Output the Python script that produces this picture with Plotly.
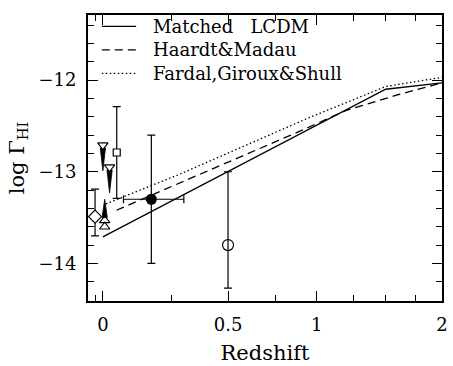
import plotly.graph_objects as go
import numpy as np

# ---- model curves (redshift, log Gamma_HI)
lcdm_z = [0.0, 1.5, 2.0]
lcdm_g = [-13.71, -12.10, -12.03]
hm_z = [0.045, 0.32, 0.89, 1.2, 1.6, 2.0]
hm_g = [-13.42, -13.08, -12.56, -12.33, -12.16, -12.03]
fgs_z = [0.01, 0.28, 0.95, 1.5, 2.0]
fgs_g = [-13.35, -13.03, -12.41, -12.07, -11.97]

# ---- measurements
fc_z, fc_g, fc_gerr, fc_zlo, fc_zhi = [0.17], [-13.30], [0.70], [0.069], [0.30]
oc_z, oc_g, oc_gup, oc_gdn = [0.5], [-13.80], [0.80], [0.47]
sq_z, sq_g, sq_gerr = [0.046], [-12.79], [0.50]
dm_z, dm_g, dm_gup, dm_gdn = [-0.025], [-13.49], [0.30], [0.21]
ul_z, ul_g = [0.0, 0.022], [-12.71, -12.95]          # upper limits
ll_z, ll_g = [0.006, 0.006], [-13.53, -13.60]        # lower limits
arrow_len = 0.28

legend_names = ["Matched   LCDM", "Haardt&Madau", "Fardal,Giroux&Shull"]

def lz(z):
    return [1 + v for v in z]

FONT = "DejaVu Serif"
fig = go.Figure()

line_w = 1.3
fig.add_trace(go.Scatter(x=lz(lcdm_z), y=lcdm_g, mode="lines",
                         line=dict(color="black", width=line_w)))
fig.add_trace(go.Scatter(x=lz(hm_z), y=hm_g, mode="lines",
                         line=dict(color="black", width=line_w, dash="8px,5px")))
fig.add_trace(go.Scatter(x=lz(fgs_z), y=fgs_g, mode="lines",
                         line=dict(color="black", width=line_w, dash="1.5px,2.5px")))

eb = dict(color="black", thickness=1.2, width=4)
# filled circle
fig.add_trace(go.Scatter(
    x=lz(fc_z), y=fc_g, mode="markers",
    marker=dict(symbol="circle", size=11, color="black"),
    error_y=dict(type="data", array=fc_gerr, **eb),
    error_x=dict(type="data", symmetric=False,
                 array=[fc_zhi[0] - fc_z[0]], arrayminus=[fc_z[0] - fc_zlo[0]], **eb)))
# open circle
fig.add_trace(go.Scatter(
    x=lz(oc_z), y=oc_g, mode="markers",
    marker=dict(symbol="circle-open", size=11, color="black", line=dict(width=1.2)),
    error_y=dict(type="data", symmetric=False, array=oc_gup, arrayminus=oc_gdn, **eb)))
# square
fig.add_trace(go.Scatter(
    x=lz(sq_z), y=sq_g, mode="markers",
    marker=dict(symbol="square", size=7, color="white", line=dict(width=1.2, color="black")),
    error_y=dict(type="data", array=sq_gerr, **eb)))
# diamond
fig.add_trace(go.Scatter(
    x=lz(dm_z), y=dm_g, mode="markers",
    marker=dict(symbol="diamond", size=10, color="white", line=dict(width=1.2, color="black")),
    error_y=dict(type="data", symmetric=False, array=dm_gup, arrayminus=dm_gdn, **eb)))

# arrow wedges for limits
hw = 1.0085  # multiplicative half width on the log(1+z) axis
for z, g in zip(ul_z, ul_g):
    x0 = 1 + z
    fig.add_trace(go.Scatter(x=[x0 / hw, x0 * hw, x0, x0 / hw],
                             y=[g - 0.03, g - 0.03, g - arrow_len, g - 0.03],
                             mode="lines", fill="toself", fillcolor="black",
                             line=dict(color="black", width=0.8)))
for z, g in zip(ll_z[:1], ll_g[:1]):
    x0 = 1 + z
    fig.add_trace(go.Scatter(x=[x0 / hw, x0 * hw, x0, x0 / hw],
                             y=[g + 0.03, g + 0.03, g + arrow_len - 0.05, g + 0.03],
                             mode="lines", fill="toself", fillcolor="black",
                             line=dict(color="black", width=0.8)))
fig.add_trace(go.Scatter(
    x=lz(ul_z), y=ul_g, mode="markers",
    marker=dict(symbol="triangle-down", size=9, color="white", line=dict(width=1.1, color="black"))))
fig.add_trace(go.Scatter(
    x=lz(ll_z), y=ll_g, mode="markers",
    marker=dict(symbol="triangle-up", size=9, color="rgba(255,255,255,0)", line=dict(width=1.1, color="black"))))

# legend drawn as annotation text + sample lines
rows_y = [0.960, 0.878, 0.796]
dashes = ["solid", "8px,5px", "1.5px,2.5px"]
for name, yy, d in zip(legend_names, rows_y, dashes):
    fig.add_shape(type="line", xref="paper", yref="paper", x0=0.039, x1=0.136, y0=yy, y1=yy,
                  line=dict(color="black", width=1.2, dash=d))
    fig.add_annotation(x=0.178, y=yy, xref="paper", yref="paper", text=name, showarrow=False,
                       xanchor="left", yanchor="middle", font=dict(family=FONT, size=18, color="black"))

x_major = [1, 1.5, 2, 3]
x_labels = ["0", "0.5", "1", "2"]
x_minor = [0.975, 1.25, 1.75, 2.25, 2.5, 2.75]

axis_common = dict(showline=True, linecolor="black", linewidth=2, mirror="allticks",
                   ticks="inside", ticklen=10, tickwidth=1.2, tickcolor="black",
                   showgrid=False, zeroline=False,
                   tickfont=dict(family=FONT, size=18, color="black"))

fig.update_layout(
    width=453, height=366, showlegend=False,
    margin=dict(l=88, r=5, t=15, b=63),
    paper_bgcolor="white", plot_bgcolor="white",
    xaxis=dict(type="log", range=[np.log10(0.953), np.log10(3.0)],
               tickmode="array", tickvals=x_major, ticktext=x_labels,
               minor=dict(tickmode="array", tickvals=x_minor, ticks="inside", ticklen=6,
                          tickwidth=1.2, tickcolor="black"),
               title=dict(text="Redshift", font=dict(family=FONT, size=21, color="black"), standoff=12),
               ticklabelstandoff=6,
               **axis_common),
    yaxis=dict(range=[-14.41, -11.29], tickmode="array", tickvals=[-14, -13, -12],
               minor=dict(dtick=0.2, ticks="inside", ticklen=6, tickwidth=1.2, tickcolor="black"),
               title=dict(text="log Γ<sub>HI</sub>", font=dict(family=FONT, size=21, color="black"), standoff=8),
               ticklabelstandoff=6,
               **axis_common),
)

fig.write_html("out.html")
